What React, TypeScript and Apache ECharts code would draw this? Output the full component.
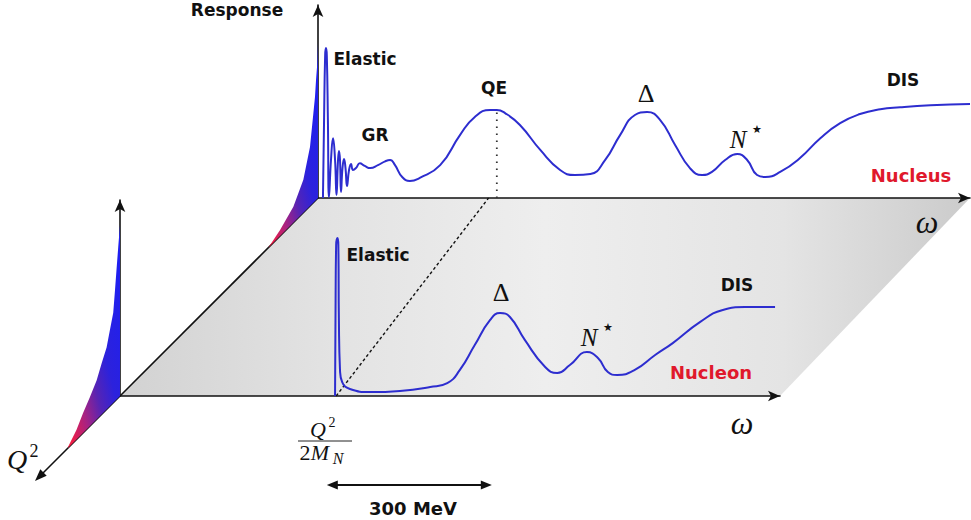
import React, { useEffect, useRef } from "react";
import * as echarts from "echarts";

// ---- Nucleus response (back plane), omega in MeV, response in arbitrary units
const nucleusOmega = [9, 11, 13, 14.5, 16, 18, 20, 23.6, 27.3, 31, 33.6, 36.4, 38.2, 40, 41.8, 44.5, 47.3, 50, 52.7, 56.4, 60, 63.6, 69, 76, 85, 95, 109, 122, 131, 140, 153, 167, 185, 222, 258, 285, 313, 325, 340, 367, 404, 440, 467, 495, 522, 549, 576, 598, 622, 649, 676, 698, 716, 740, 762, 780, 798, 813, 840, 876, 913, 949, 985, 1022, 1058, 1113, 1185];
const nucleusResponse = [0, 40, 74, 77.7, 74, 40, 0.5, 19.7, 31, 19.7, 1.5, 19.7, 24.4, 19.7, 3.1, 15.5, 20.2, 15.5, 6.2, 14.5, 17.6, 14.5, 15.5, 18, 16.6, 15.5, 17, 19, 19.7, 17, 10.9, 8.8, 10.4, 17, 32.6, 42, 45.6, 45.6, 44, 37.8, 24.9, 14.5, 11.9, 12.4, 19.7, 32.6, 43, 44.5, 40.4, 27.5, 15.5, 11.9, 13.5, 19.7, 22.8, 19.7, 11.9, 10.9, 13.5, 20.7, 31, 38.8, 43.5, 46, 47, 48, 48.7];

// ---- Nucleon response (front plane)
const nucleonOmega = [391, 392, 393, 395.5, 397, 398, 400, 404, 418, 455, 509, 564, 595, 618, 645, 673, 691, 709, 736, 773, 795, 818, 849, 869, 887, 904, 936, 973, 1005, 1055, 1096, 1136, 1191];
const nucleonResponse = [0, 49, 77, 80.6, 77, 38.8, 13.3, 7.1, 3.6, 2, 2.6, 4.6, 6.6, 13.3, 26, 38.8, 42.3, 40.3, 28.6, 14.8, 11.7, 15.8, 22.4, 19.4, 12.2, 10.7, 13.3, 20.9, 27, 37.8, 43.9, 45.4, 45.4];

// ---- Elastic peak height versus Q^2 (the coloured fans)
const q2Nucleus = [0, 0.07, 0.19, 0.29, 0.45, 0.77, 1.41, 2.37, 3.65, 4.78];
const elasticNucleus = [80.3, 70, 62.2, 53.9, 46.1, 30.6, 17.1, 8.3, 3.1, 0];
const q2Nucleon = [0, 0.17, 0.32, 0.48, 0.65, 0.97, 1.29, 1.77, 2.25, 2.9, 3.55, 4.19, 5.0];
const elasticNucleon = [87.2, 76.9, 67.3, 56.6, 45.9, 38.8, 31.6, 26, 19.9, 14.8, 10.2, 4.9, 0.5];

// ---- reference values
const qeOmegaNucleus = 325;
const qeResponseNucleus = 45.6;
const qeBaseOmegaNucleus = 310;
const elasticOmegaNucleon = 393;
const scaleArrowStart = 376;
const scaleArrowEnd = 676; // 300 MeV
const omegaMaxNucleon = 1200;
const omegaMaxNucleus = 1185;

const BLUE = "#2d2dcf";
const AXIS = "#111111";
const RED = "#e0192c";
const SANS = '"DejaVu Sans", sans-serif';
const SERIF = '"Liberation Serif", "DejaVu Serif", serif';

export default function App() {
  const ref = useRef<HTMLDivElement>(null);
  useEffect(() => {
    const chart = echarts.init(ref.current as HTMLDivElement, null, { renderer: "svg" });
    const axisBase = (max: number, gridIndex: number) => ({
      type: "value",
      gridIndex,
      min: 0,
      max,
      axisLine: {
        show: true,
        onZero: false,
        symbol: ["none", "arrow"],
        symbolSize: [8, 12],
        lineStyle: { color: AXIS, width: 1.6 },
      },
      axisTick: { show: false },
      axisLabel: { show: false },
      splitLine: { show: false },
    });
    chart.setOption({
      animation: false,
      grid: [
        { left: 120, top: 200, width: 660, height: 196 },
        { left: 318, top: 5, width: 652, height: 193 },
      ],
      xAxis: [axisBase(omegaMaxNucleon, 0), axisBase(omegaMaxNucleus, 1)],
      yAxis: [axisBase(100, 0), axisBase(100, 1)],
      series: [
        {
          type: "line",
          xAxisIndex: 0,
          yAxisIndex: 0,
          data: nucleonOmega.map((w, i) => [w, nucleonResponse[i]]),
          showSymbol: false,
          smooth: 0.5,
          lineStyle: { color: BLUE, width: 2 },
          z: 5,
        },
        {
          type: "line",
          xAxisIndex: 1,
          yAxisIndex: 1,
          data: nucleusOmega.map((w, i) => [w, nucleusResponse[i]]),
          showSymbol: false,
          smooth: 0.5,
          lineStyle: { color: BLUE, width: 2 },
          z: 5,
        },
      ],
    });

    const pN = (x: number, y: number) => chart.convertToPixel({ gridIndex: 0 }, [x, y]) as number[];
    const pA = (x: number, y: number) => chart.convertToPixel({ gridIndex: 1 }, [x, y]) as number[];

    const F0 = pN(0, 0);
    const F1 = pN(omegaMaxNucleon, 0);
    const B0 = pA(0, 0);
    const B1 = pA(omegaMaxNucleus, 0);
    const q2Scale = 10.4; // px per Q^2 unit along the oblique axis

    const fan = (origin: number[], q2: number[], h: number[], conv: (x: number, y: number) => number[]) => {
      const unit = origin[1] - conv(0, 1)[1];
      const tops = q2.map((q, i) => [origin[0] - q * q2Scale, origin[1] + q * q2Scale - h[i] * unit]);
      const last = q2[q2.length - 1];
      const pts = [origin, ...tops, [origin[0] - last * q2Scale, origin[1] + last * q2Scale]];
      return {
        type: "polygon",
        z: 2,
        shape: { points: pts },
        style: {
          fill: new echarts.graphic.LinearGradient(0.9, 0.15, 0.1, 1, [
            { offset: 0, color: "#1f1ff0" },
            { offset: 0.38, color: "#2c22dc" },
            { offset: 0.58, color: "#5624b4" },
            { offset: 0.78, color: "#a82282" },
            { offset: 1, color: "#ee1e46" },
          ]),
          stroke: "none",
        },
      };
    };

    const arrowHead = (tip: number[], dir: number[], len = 12, half = 4.5) => {
      const n = Math.hypot(dir[0], dir[1]);
      const ux = dir[0] / n;
      const uy = dir[1] / n;
      const bx = tip[0] - ux * len;
      const by = tip[1] - uy * len;
      return {
        type: "polygon",
        z: 3,
        shape: { points: [tip, [bx - uy * half, by + ux * half], [bx + uy * half, by - ux * half]] },
        style: { fill: AXIS },
      };
    };

    const text = (t: string, x: number, y: number, font: string, fill = "#111") => ({
      type: "text",
      x,
      y,
      z: 6,
      style: {
        text: t,
        font,
        fill,
        align: "center",
        verticalAlign: "middle",
        textAlign: "center",
        textVerticalAlign: "middle",
      },
    });

    const qTip = [F0[0] - 85, F0[1] + 85];
    const elBase = pN(elasticOmegaNucleon, 0);
    const qeBase = pA(qeBaseOmegaNucleus, 0);
    const qeV0 = pA(qeOmegaNucleus, 0);
    const qeV1 = pA(qeOmegaNucleus, qeResponseNucleus);
    const sa = pN(scaleArrowStart, 0)[0];
    const sb = pN(scaleArrowEnd, 0)[0];
    const sy = F0[1] + 89;

    const elements: any[] = [
      {
        type: "polygon",
        z: -10,
        shape: { points: [F0, F1, B1, B0] },
        style: {
          fill: new echarts.graphic.LinearGradient(0, 0, 1, 0, [
            { offset: 0, color: "#d2d2d2" },
            { offset: 0.25, color: "#e3e3e3" },
            { offset: 0.5, color: "#eeeeee" },
            { offset: 0.78, color: "#e4e4e4" },
            { offset: 1, color: "#cbcbcb" },
          ]),
        },
      },
      { type: "line", z: 1, shape: { x1: F0[0], y1: F0[1], x2: B0[0], y2: B0[1] }, style: { stroke: AXIS, lineWidth: 1.6 } },
      { type: "line", z: 1, shape: { x1: F0[0], y1: F0[1], x2: qTip[0] + 6, y2: qTip[1] - 6 }, style: { stroke: AXIS, lineWidth: 1.6 } },
      arrowHead(qTip, [-1, 1]),
      fan(F0, q2Nucleon, elasticNucleon, pN),
      fan(B0, q2Nucleus, elasticNucleus, pA),
      { type: "line", z: 4, shape: { x1: elBase[0], y1: elBase[1], x2: qeBase[0], y2: qeBase[1] }, style: { stroke: AXIS, lineWidth: 1.4, lineDash: [3, 2.5] } },
      { type: "line", z: 4, shape: { x1: qeV0[0], y1: qeV0[1], x2: qeV1[0], y2: qeV1[1] }, style: { stroke: "#333", lineWidth: 1.8, lineDash: [1.5, 5.5] } },
      { type: "line", z: 3, shape: { x1: sa + 6, y1: sy, x2: sb - 6, y2: sy }, style: { stroke: AXIS, lineWidth: 1.8 } },
      arrowHead([sa, sy], [-1, 0], 11, 4.5),
      arrowHead([sb, sy], [1, 0], 11, 4.5),

      text("Response", 237, 10, `bold 17px ${SANS}`),
      text("Elastic", 365, 59, `bold 17px ${SANS}`),
      text("GR", 375, 135, `bold 17px ${SANS}`),
      text("QE", 494, 88, `bold 17px ${SANS}`),
      text("Δ", 646, 93, `26px ${SERIF}`),
      text("N", 738, 139, `italic 25px ${SERIF}`),
      text("★", 757, 129, `11px ${SANS}`),
      text("DIS", 903, 80, `bold 17px ${SANS}`),
      text("Nucleus", 911, 175, `bold 18px ${SANS}`, RED),
      text("ω", 927, 222, `italic 32px ${SERIF}`),

      text("Elastic", 378, 255, `bold 17px ${SANS}`),
      text("Δ", 501, 292, `26px ${SERIF}`),
      text("N", 589, 337, `italic 25px ${SERIF}`),
      text("★", 608, 327, `11px ${SANS}`),
      text("DIS", 737, 285, `bold 17px ${SANS}`),
      text("Nucleon", 711, 372, `bold 18px ${SANS}`, RED),
      text("ω", 742, 423, `italic 32px ${SERIF}`),

      text("Q", 17, 459, `italic 28px ${SERIF}`),
      text("2", 34, 451, `18px ${SERIF}`),

      text("Q", 318, 429, `italic 22px ${SERIF}`),
      text("2", 332, 422, `14px ${SERIF}`),
      { type: "line", z: 6, shape: { x1: 298, y1: 441, x2: 352, y2: 441 }, style: { stroke: "#222", lineWidth: 1 } },
      text("2", 305, 452, `22px ${SERIF}`),
      text("M", 320, 452, `italic 22px ${SERIF}`),
      text("N", 338, 458, `italic 16px ${SERIF}`),

      text("300 MeV", 413, 508, `bold 18px ${SANS}`),
    ];
    chart.setOption({ graphic: elements });
    return () => chart.dispose();
  }, []);
  return <div ref={ref} style={{ position: "absolute", left: 0, top: 0, width: 971, height: 520 }} />;
}
